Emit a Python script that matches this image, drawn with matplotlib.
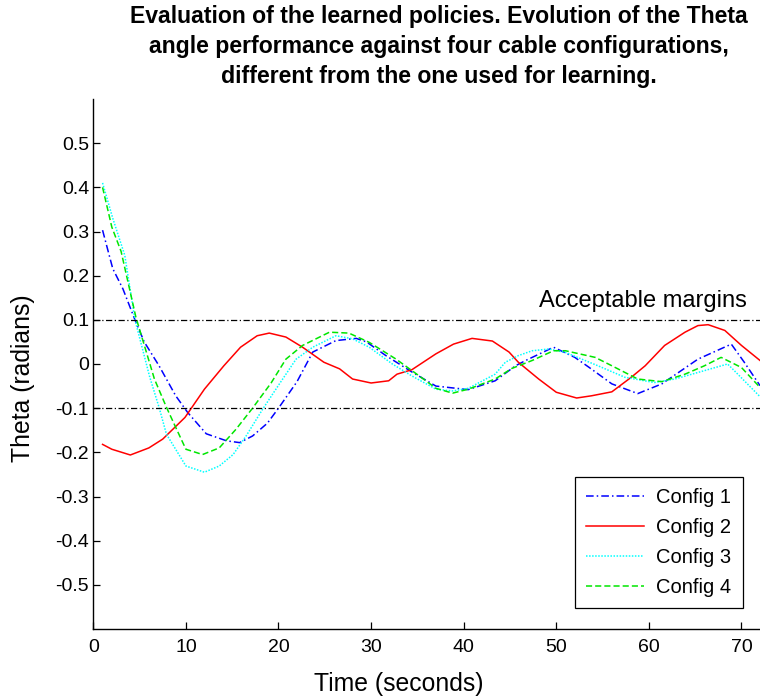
import matplotlib
matplotlib.use("Agg")
import matplotlib.pyplot as plt

# ---- data ----
t1 = [1, 2.1, 3.2, 4.5, 5.5, 7.1, 8.9, 10.2, 12.2, 14.4, 15.8, 17.2, 18.8, 20, 22, 23.7,
      26.2, 28.4, 29.5, 31.6, 34.4, 37, 40.5, 43.4, 45.6, 46.7, 49.7, 52, 53.5, 56, 58.8,
      61.4, 65.3, 68.9, 70.3, 72]
config1 = [0.303, 0.216, 0.17, 0.10, 0.05, -0.004, -0.072, -0.11, -0.158, -0.174, -0.178,
           -0.163, -0.134, -0.10, -0.04, 0.027, 0.053, 0.058, 0.05, 0.019, -0.018, -0.05,
           -0.058, -0.038, -0.004, 0.008, 0.038, 0.015, -0.007, -0.045, -0.067, -0.045,
           0.011, 0.045, 0.004, -0.049]

t2 = [1, 2, 4, 6, 7.5, 9.9, 12, 14.1, 15.9, 17.7, 19, 20.8, 22.6, 24.9, 26.6, 28, 30, 31.9,
      32.8, 34.4, 37, 38.9, 40.9, 43.1, 44.9, 45.9, 48.1, 50, 52.2, 53.8, 56, 58.1, 59.6,
      61.7, 63.9, 65.3, 66.4, 68.2, 70, 72]
config2 = [-0.182, -0.193, -0.206, -0.19, -0.17, -0.121, -0.057, -0.004, 0.038, 0.064, 0.07,
           0.061, 0.038, 0.004, -0.011, -0.034, -0.043, -0.038, -0.023, -0.013, 0.023, 0.045,
           0.058, 0.052, 0.027, 0.004, -0.034, -0.064, -0.077, -0.072, -0.063, -0.03, -0.004,
           0.042, 0.072, 0.087, 0.089, 0.076, 0.042, 0.008]

t3 = [1, 2.1, 3.4, 4.5, 6.1, 7.1, 7.9, 10, 12, 13.6, 15.1, 16.5, 18.3, 20.1, 21.9, 23.7, 26.2,
      28, 29.8, 32.3, 34.4, 37, 38.8, 40.5, 43.4, 44.5, 45.9, 47.4, 49.2, 51, 54.5, 57.4,
      60.6, 62.8, 66, 68.5, 69.6, 72]
config3 = [0.41, 0.33, 0.246, 0.10, -0.03, -0.098, -0.159, -0.231, -0.245, -0.231, -0.205,
           -0.163, -0.102, -0.045, 0.011, 0.038, 0.064, 0.057, 0.038, 0.0, -0.027, -0.057,
           -0.061, -0.055, -0.023, 0.004, 0.019, 0.03, 0.034, 0.026, -0.004, -0.03, -0.042,
           -0.034, -0.015, 0.0, -0.023, -0.074]

t4 = [1, 2, 3, 4.6, 6.6, 7.9, 9, 10, 11.8, 13.6, 15.4, 17.2, 19.2, 20.8, 22.6, 25.5, 27.6,
      29.8, 32.7, 35.2, 37, 38.8, 40.5, 43.4, 45.2, 47.4, 49.7, 51, 54.2, 56, 58.8, 61.4,
      63.9, 66, 67.8, 70, 72]
config4 = [0.40, 0.31, 0.255, 0.106, -0.034, -0.098, -0.148, -0.193, -0.205, -0.19, -0.148,
           -0.10, -0.043, 0.011, 0.042, 0.072, 0.07, 0.049, 0.011, -0.027, -0.055, -0.066,
           -0.057, -0.034, -0.01, 0.008, 0.03, 0.03, 0.015, -0.004, -0.034, -0.04, -0.023,
           -0.004, 0.015, -0.008, -0.053]

labels = ["Config 1", "Config 2", "Config 3", "Config 4"]
margin = 0.1
xticks = [0, 10, 20, 30, 40, 50, 60, 70]
yticks = [-0.5, -0.4, -0.3, -0.2, -0.1, 0, 0.1, 0.2, 0.3, 0.4, 0.5]
ytick_labels = ["-0.5", "-0.4", "-0.3", "-0.2", "-0.1", "0", "0.1", "0.2", "0.3", "0.4", "0.5"]
title_lines = ["Evaluation of the learned policies. Evolution of the Theta",
               "angle performance against four cable configurations,",
               "different from the one used for learning."]

plt.rcParams['font.family'] = ['Liberation Sans', 'DejaVu Sans']

W, H = 760, 699
fig = plt.figure(figsize=(W / 100, H / 100), dpi=100)
ax = fig.add_axes([93.3 / W, (H - 629) / H, (760 - 93.3) / W, (629 - 99) / H])

lw = 1.1
ax.plot(t1, config1, color=(0, 0, 1), lw=lw, linestyle=(0, (5, 2, 1, 2)), label=labels[0])
ax.plot(t2, config2, color=(1, 0, 0), lw=lw, linestyle='-', label=labels[1])
ax.plot(t3, config3, color=(0, 1, 1), lw=lw, linestyle=(0, (1, 1)), label=labels[2])
ax.plot(t4, config4, color=(0, 0.9, 0), lw=lw, linestyle=(0, (4, 2)), label=labels[3])

for m in (margin, -margin):
    ax.axhline(m, color='black', lw=0.9, linestyle=(0, (5, 2, 1, 2)))

ax.text(70.6, 0.13, "Acceptable margins", ha='right', va='baseline', fontsize=17)

ax.set_xlim(0, 72)
ax.set_ylim(-0.6, 0.6)
ax.set_xticks(xticks)
ax.set_yticks(yticks)
ax.set_yticklabels(ytick_labels)
ax.tick_params(direction='in', length=5, width=0.9, labelsize=14)
ax.tick_params(axis='y', pad=3)
ax.tick_params(axis='x', pad=7)
for s in ('top', 'right'):
    ax.spines[s].set_visible(False)
for s in ('left', 'bottom'):
    ax.spines[s].set_linewidth(1.0)

leg = ax.legend(loc='lower right', bbox_to_anchor=(0.974, 0.039), borderaxespad=0,
                fontsize=14.5, handlelength=2.9, labelspacing=0.55, borderpad=0.55,
                handletextpad=0.6, fancybox=False, framealpha=1, edgecolor='black')
leg.get_frame().set_linewidth(0.9)

fig.text(399 / W, 1 - 684 / H, "Time (seconds)", ha='center', va='center', fontsize=17.8)
fig.text(23 / W, 1 - 378 / H, "Theta (radians)", ha='center', va='center', fontsize=17.8,
         rotation=90)

ys = [17, 47, 77]
for line, y in zip(title_lines, ys):
    fig.text(439 / W, 1 - y / H, line, ha='center', va='center', fontsize=16.6,
             fontweight='bold')

fig.savefig("out.png", dpi=100)
